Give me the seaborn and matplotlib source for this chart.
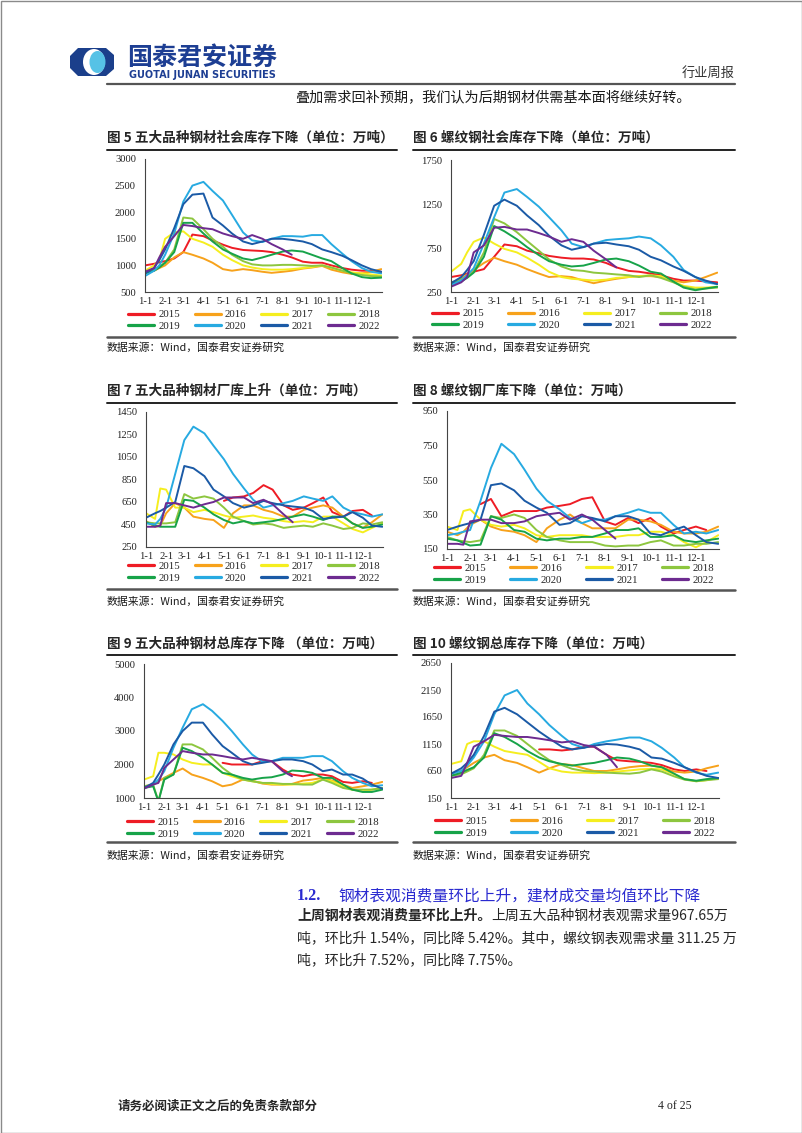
import matplotlib
matplotlib.use('Agg')
import matplotlib.pyplot as plt
from matplotlib.lines import Line2D
from matplotlib.patches import Polygon, Ellipse, Rectangle
import pandas as pd
import seaborn as sns

W, H = 802, 1133

# sample days (day of year), roughly twice a month
days = [0, 14, 22, 31, 45, 59, 73, 90, 104, 120, 134, 151, 165, 181, 195,
        212, 226, 243, 257, 273, 287, 304, 318, 334, 348, 364]
month_days = [0, 31, 59, 90, 120, 151, 181, 212, 243, 273, 304, 334]
month_labels = ['1-1', '2-1', '3-1', '4-1', '5-1', '6-1', '7-1', '8-1',
                '9-1', '10-1', '11-1', '12-1']
years = ['2015', '2016', '2017', '2018', '2019', '2020', '2021', '2022']
NA = None

# 图5 五大品种钢材社会库存
s1_2015 = [1000, 1030, 1060, 1080, 1130, 1250, 1580, 1550, 1470, 1390, 1330, 1290, 1280, 1270, 1250, 1200, 1150, 1070, 1050, 1050, 1000, 950, 920, 900, 900, 880]
s1_2016 = [870, 900, 950, 1000, 1150, 1250, 1200, 1130, 1050, 930, 900, 930, 910, 880, 860, 880, 900, 940, 960, 990, 920, 870, 840, 850, 880, 930]
s1_2017 = [900, 1000, 1100, 1500, 1620, 1640, 1500, 1430, 1350, 1200, 1100, 1000, 960, 930, 920, 920, 930, 950, 970, 1000, 960, 900, 870, 850, 830, 810]
s1_2018 = [880, 920, 980, 1050, 1300, 1900, 1880, 1680, 1500, 1350, 1200, 1080, 1020, 1000, 1000, 1010, 1010, 1000, 990, 1000, 960, 900, 850, 820, 800, 790]
s1_2019 = [850, 900, 960, 1050, 1250, 1800, 1800, 1600, 1450, 1300, 1220, 1130, 1100, 1150, 1200, 1260, 1280, 1260, 1200, 1130, 1080, 950, 850, 780, 760, 770]
s1_2020 = [800, 900, 1000, 1200, 1600, 2200, 2500, 2570, 2400, 2220, 1950, 1620, 1470, 1440, 1500, 1550, 1550, 1540, 1570, 1570, 1400, 1220, 1080, 950, 880, 850]
s1_2021 = [850, 950, 1100, 1300, 1700, 2150, 2330, 2350, 1900, 1750, 1600, 1450, 1400, 1450, 1500, 1500, 1480, 1450, 1400, 1300, 1250, 1180, 1100, 1000, 930, 880]
s1_2022 = [880, 950, 1150, 1350, 1550, 1760, 1740, 1700, 1680, 1600, 1550, 1500, 1570, 1500, 1400, 1300, 1200, NA, NA, NA, NA, NA, NA, NA, NA, NA]

# 图6 螺纹钢社会库存
s2_2015 = [420, 440, 460, 480, 510, 650, 790, 770, 720, 690, 660, 640, 630, 630, 620, 580, 530, 490, 480, 460, 440, 400, 380, 380, 370, 360]
s2_2016 = [350, 400, 450, 500, 580, 640, 600, 560, 510, 460, 420, 430, 420, 380, 350, 380, 400, 420, 430, 430, 420, 380, 360, 380, 420, 470]
s2_2017 = [480, 570, 700, 820, 870, 800, 740, 700, 640, 560, 480, 420, 400, 390, 380, 390, 410, 420, 430, 440, 430, 370, 320, 300, 300, 310]
s2_2018 = [360, 390, 430, 480, 700, 1080, 1030, 930, 830, 720, 620, 540, 500, 490, 470, 460, 450, 440, 420, 440, 410, 360, 310, 280, 290, 300]
s2_2019 = [340, 370, 410, 470, 650, 1000, 940, 850, 760, 670, 600, 560, 540, 550, 580, 620, 630, 600, 550, 480, 460, 370, 300, 270, 290, 310]
s2_2020 = [330, 380, 440, 520, 800, 1100, 1380, 1420, 1330, 1220, 1100, 950, 800, 760, 800, 840, 850, 860, 880, 860, 780, 650, 500, 420, 360, 340]
s2_2021 = [350, 420, 500, 600, 900, 1230, 1300, 1230, 1120, 1010, 890, 780, 730, 760, 800, 810, 790, 770, 730, 650, 610, 540, 490, 420, 380, 340]
s2_2022 = [310, 360, 420, 700, 780, 980, 990, 960, 960, 920, 880, 820, 850, 820, 720, 620, 530, NA, NA, NA, NA, NA, NA, NA, NA, NA]

# 图7 五大品种钢材厂库
s3_2015 = [NA, NA, NA, NA, NA, NA, NA, NA, NA, 660, 690, 700, 730, 800, 760, 620, 580, 600, 640, 690, 560, 520, 570, 580, 530, NA]
s3_2016 = [480, 430, 440, 550, 640, 600, 520, 500, 490, 420, 550, 620, 620, 580, 560, 520, 520, 580, 600, 620, 600, 520, 460, 420, 470, 540]
s3_2017 = [550, 500, 770, 760, 600, 600, 560, 580, 560, 530, 510, 520, 530, 510, 500, 480, 470, 480, 470, 520, 520, 460, 410, 380, 420, 460]
s3_2018 = [470, 460, 460, 460, 470, 720, 680, 700, 680, 600, 520, 480, 450, 460, 450, 420, 430, 440, 430, 460, 440, 410, 420, 460, 450, 470]
s3_2019 = [470, 440, 430, 430, 430, 670, 660, 600, 540, 490, 460, 480, 460, 470, 480, 500, 520, 540, 520, 490, 520, 520, 460, 420, 430, 450]
s3_2020 = [460, 450, 500, 600, 900, 1200, 1320, 1260, 1150, 1030, 900, 770, 670, 600, 620, 640, 660, 700, 680, 660, 700, 600, 560, 540, 520, 540]
s3_2021 = [510, 550, 570, 600, 650, 970, 950, 880, 760, 700, 640, 600, 620, 660, 640, 620, 610, 600, 570, 500, 510, 520, 560, 510, 440, 430]
s3_2022 = [430, 430, 440, 640, 640, 620, 600, 630, 650, 690, 690, 690, 640, 670, 630, 540, 470, NA, NA, NA, NA, NA, NA, NA, NA, NA]

# 图8 螺纹钢厂库
s4_2015 = [NA, NA, NA, NA, 410, 440, 340, 370, 370, 370, 390, 400, 410, 440, 450, 310, 290, 330, 300, 330, 280, 240, 260, 280, 260, NA]
s4_2016 = [250, 230, 250, 290, 320, 280, 260, 250, 230, 190, 270, 320, 350, 300, 270, 270, 270, 320, 320, 310, 290, 250, 240, 240, 250, 280]
s4_2017 = [280, 260, 370, 380, 320, 290, 280, 290, 270, 230, 220, 230, 230, 230, 220, 220, 220, 230, 230, 250, 250, 230, 190, 160, 190, 230]
s4_2018 = [220, 200, 195, 190, 200, 340, 330, 350, 330, 260, 220, 200, 190, 190, 190, 170, 165, 170, 170, 190, 200, 170, 170, 180, 180, 190]
s4_2019 = [210, 200, 185, 170, 175, 340, 320, 260, 250, 210, 200, 210, 210, 220, 220, 240, 260, 260, 270, 220, 220, 230, 200, 190, 200, 210]
s4_2020 = [230, 240, 250, 260, 430, 620, 760, 700, 610, 500, 430, 380, 330, 300, 320, 320, 340, 360, 380, 360, 360, 290, 240, 250, 240, 260]
s4_2021 = [260, 280, 290, 300, 320, 520, 530, 490, 430, 390, 360, 290, 300, 340, 330, 310, 340, 340, 320, 240, 230, 260, 280, 230, 190, 180]
s4_2022 = [180, 180, 175, 310, 320, 320, 300, 300, 310, 340, 350, 360, 320, 350, 320, 260, 210, NA, NA, NA, NA, NA, NA, NA, NA, NA]

# 图9 五大品种钢材总库存
s5_2015 = [NA, NA, NA, NA, NA, NA, NA, NA, NA, 2050, 2000, 2000, 2000, 2100, 2100, 1850, 1700, 1650, 1700, 1700, 1650, 1480, 1450, 1500, 1450, NA]
s5_2016 = [1350, 1400, 1500, 1600, 1750, 1880, 1700, 1600, 1500, 1350, 1400, 1550, 1520, 1430, 1400, 1400, 1420, 1520, 1550, 1600, 1520, 1400, 1300, 1350, 1400, 1480]
s5_2017 = [1550, 1650, 2350, 2350, 2300, 2150, 2050, 2000, 2000, 1750, 1650, 1550, 1500, 1450, 1420, 1400, 1400, 1430, 1450, 1550, 1500, 1350, 1250, 1200, 1250, 1300]
s5_2018 = [1350, 1400, 900, 1600, 1700, 2600, 2600, 2450, 2200, 1900, 1700, 1550, 1500, 1450, 1450, 1420, 1420, 1400, 1400, 1550, 1450, 1300, 1250, 1250, 1250, 1300]
s5_2019 = [1300, 1350, 900, 1550, 1700, 2500, 2400, 2200, 2000, 1750, 1700, 1600, 1550, 1600, 1620, 1700, 1820, 1800, 1750, 1600, 1600, 1400, 1250, 1180, 1180, 1250]
s5_2020 = [1300, 1400, 1550, 1800, 2500, 3100, 3650, 3800, 3600, 3300, 3000, 2600, 2300, 2080, 2100, 2200, 2200, 2200, 2250, 2250, 2100, 1800, 1600, 1450, 1350, 1380]
s5_2021 = [1300, 1450, 1700, 2000, 2600, 3000, 3250, 3250, 2900, 2550, 2350, 2100, 2000, 2050, 2100, 2150, 2150, 2100, 2000, 1800, 1850, 1700, 1700, 1580, 1400, 1280]
s5_2022 = [1280, 1400, 1450, 1900, 2150, 2400, 2350, 2300, 2300, 2250, 2200, 2150, 2200, 2150, 2100, 1800, 1650, NA, NA, NA, NA, NA, NA, NA, NA, NA]

# 图10 螺纹钢总库存
s6_2015 = [NA, NA, NA, NA, NA, NA, NA, NA, NA, 1050, 1050, 1030, 1050, 1100, 1100, 950, 850, 830, 820, 800, 760, 680, 650, 680, 650, NA]
s6_2016 = [600, 650, 720, 800, 900, 950, 850, 800, 720, 620, 700, 780, 760, 700, 650, 650, 680, 720, 740, 750, 720, 640, 620, 640, 700, 750]
s6_2017 = [780, 830, 1150, 1200, 1200, 1100, 1020, 980, 950, 820, 700, 640, 620, 620, 610, 620, 640, 660, 680, 690, 680, 590, 500, 460, 480, 520]
s6_2018 = [560, 590, 640, 700, 950, 1400, 1400, 1300, 1150, 980, 850, 760, 690, 650, 640, 620, 610, 600, 620, 680, 640, 550, 490, 460, 480, 500]
s6_2019 = [560, 620, 670, 720, 900, 1350, 1280, 1150, 1020, 900, 830, 780, 750, 780, 800, 850, 900, 880, 830, 750, 720, 600, 500, 470, 500, 520]
s6_2020 = [600, 650, 750, 900, 1200, 1700, 2050, 2150, 1900, 1700, 1500, 1300, 1150, 1080, 1150, 1200, 1230, 1270, 1270, 1200, 1080, 900, 720, 620, 580, 620]
s6_2021 = [600, 700, 800, 950, 1300, 1750, 1820, 1700, 1550, 1380, 1250, 1100, 1050, 1080, 1120, 1150, 1140, 1100, 1050, 900, 880, 800, 720, 630, 560, 520]
s6_2022 = [520, 560, 800, 1100, 1200, 1320, 1300, 1280, 1280, 1250, 1220, 1180, 1200, 1130, 1100, 950, 720, NA, NA, NA, NA, NA, NA, NA, NA, NA]

palette = {'2015': '#ee1c25', '2016': '#f7a21b', '2017': '#f5ee1f', '2018': '#8dc63f',
           '2019': '#17a349', '2020': '#27aae1', '2021': '#1b5aa6', '2022': '#6d2b90'}

sns.set_theme(style='white')
plt.rcParams['font.family'] = ['Noto Sans CJK SC', 'DejaVu Sans']
plt.rcParams['axes.unicode_minus'] = False


def long_df(series):
    frames = [pd.DataFrame({'day': days, 'value': vals, 'year': yr})
              for yr, vals in zip(years, series)]
    df = pd.concat(frames, ignore_index=True)
    df['value'] = pd.to_numeric(df['value'])
    return df.dropna()


charts = [
    dict(title='图 5 五大品种钢材社会库存下降（单位：万吨）',
         series=[s1_2015, s1_2016, s1_2017, s1_2018, s1_2019, s1_2020, s1_2021, s1_2022],
         yticks=[500, 1000, 1500, 2000, 2500, 3000], box=(145, 159, 382, 292),
         leg=(254, 320.5), cs=1.36, col=(107, 397), ty=138, ul=150, bl=337, src=348),
    dict(title='图 6 螺纹钢社会库存下降（单位：万吨）',
         series=[s2_2015, s2_2016, s2_2017, s2_2018, s2_2019, s2_2020, s2_2021, s2_2022],
         yticks=[250, 750, 1250, 1750], box=(451, 160, 718, 292),
         leg=(572, 319.5), cs=2.2, col=(413, 735), ty=138, ul=150, bl=337, src=348),
    dict(title='图 7 五大品种钢材厂库上升（单位：万吨）',
         series=[s3_2015, s3_2016, s3_2017, s3_2018, s3_2019, s3_2020, s3_2021, s3_2022],
         yticks=[250, 450, 650, 850, 1050, 1250, 1450], box=(146, 412, 383, 547),
         leg=(254, 572), cs=1.36, col=(107, 397), ty=391, ul=403, bl=589, src=602),
    dict(title='图 8 螺纹钢厂库下降（单位：万吨）',
         series=[s4_2015, s4_2016, s4_2017, s4_2018, s4_2019, s4_2020, s4_2021, s4_2022],
         yticks=[150, 350, 550, 750, 950], box=(447, 411, 719, 549),
         leg=(574, 574), cs=2.2, col=(413, 735), ty=391, ul=403, bl=590, src=602),
    dict(title='图 9 五大品种钢材总库存下降 （单位：万吨）',
         series=[s5_2015, s5_2016, s5_2017, s5_2018, s5_2019, s5_2020, s5_2021, s5_2022],
         yticks=[1000, 2000, 3000, 4000, 5000], box=(144, 664, 383, 798),
         leg=(253, 828), cs=1.36, col=(107, 397), ty=644, ul=655, bl=842, src=856),
    dict(title='图 10 螺纹钢总库存下降（单位：万吨）',
         series=[s6_2015, s6_2016, s6_2017, s6_2018, s6_2019, s6_2020, s6_2021, s6_2022],
         yticks=[150, 650, 1150, 1650, 2150, 2650], box=(451, 663, 719, 798),
         leg=(575, 827), cs=2.2, col=(413, 735), ty=644, ul=655, bl=842, src=856),
]

fig = plt.figure(figsize=(W / 100, H / 100), dpi=100)
fig.patch.set_facecolor('white')

# page layer in pixel coordinates
page = fig.add_axes([0, 0, 1, 1])
page.set_xlim(0, W)
page.set_ylim(H, 0)
page.axis('off')

page.add_patch(Rectangle((0.5, 0.5), W - 1, H - 1, fill=False, edgecolor='#8a8a8a', lw=1))

# logo
page.add_patch(Polygon([(78, 48), (106, 48), (114, 55), (114, 69), (106, 76),
                        (78, 76), (70, 68), (70, 56)], closed=True,
                       facecolor='#1b3f8b', edgecolor='none'))
page.add_patch(Ellipse((94, 62), 22, 26, facecolor='white', edgecolor='none'))
page.add_patch(Ellipse((97.5, 62), 16, 22, facecolor='#56c2e6', edgecolor='none'))
page.text(127, 58, '国泰君安证券', fontsize=18, fontweight='bold', color='#1d3e93', va='center')
page.text(129, 75, 'GUOTAI JUNAN SECURITIES', fontsize=7, fontweight='bold',
          color='#1d3e93', family='DejaVu Sans', va='center')
page.text(735, 73, '行业周报', ha='right', va='center', fontsize=9.5, color='#333333')
page.plot([107, 735], [84, 84], color='#555555', lw=1.6)
page.text(295, 97, '叠加需求回补预期，我们认为后期钢材供需基本面将继续好转。',
          fontsize=10.2, va='center', color='#1a1a1a')

order = [0, 4, 1, 5, 2, 6, 3, 7]

for c in charts:
    x0, y0, x1, y1 = c['box']
    ax = fig.add_axes([x0 / W, 1 - y1 / H, (x1 - x0) / W, (y1 - y0) / H])
    ax.set_facecolor('none')
    df = long_df(c['series'])
    sns.lineplot(data=df, x='day', y='value', hue='year', hue_order=years,
                 palette=palette, linewidth=1.4, legend=False, ax=ax, estimator=None)
    ax.set_xlim(0, 365)
    ax.set_ylim(c['yticks'][0], c['yticks'][-1])
    ax.set_xticks(month_days)
    ax.set_xticklabels(month_labels)
    ax.set_yticks(c['yticks'])
    ax.set_xlabel('')
    ax.set_ylabel('')
    ax.grid(False)
    for sp in ['top', 'right']:
        ax.spines[sp].set_visible(False)
    for sp in ['left', 'bottom']:
        ax.spines[sp].set_color('#444444')
        ax.spines[sp].set_linewidth(0.8)
    ax.tick_params(axis='both', direction='out', length=2.5, width=0.7, color='#444444',
                   labelsize=7.6, labelcolor='#222222')
    ax.tick_params(axis='y', pad=4.0)
    ax.tick_params(axis='x', pad=0.8)
    for lab in ax.get_xticklabels() + ax.get_yticklabels():
        lab.set_fontfamily('Liberation Serif')

    handles = [Line2D([], [], color=palette[y], lw=2.3) for y in years]
    ax.legend([handles[i] for i in order], [years[i] for i in order], loc='center',
              bbox_to_anchor=(c['leg'][0] / W, 1 - c['leg'][1] / H),
              bbox_transform=fig.transFigure, ncol=4, frameon=False,
              handlelength=2.4, handletextpad=0.4, columnspacing=c['cs'],
              labelspacing=0.2, borderpad=0, borderaxespad=0,
              prop={'family': 'Liberation Serif', 'size': 7.8})

    l0, l1 = c['col']
    page.text(l0, c['ty'], c['title'], fontsize=9.8, fontweight='bold', va='center')
    page.plot([l0, l1], [c['ul'], c['ul']], color='#222222', lw=1.4)
    page.plot([l0, l1], [c['bl'], c['bl']], color='#555555', lw=1.8)
    page.text(l0, c['src'], '数据来源：Wind，国泰君安证券研究', fontsize=7.8, va='center',
              color='#1a1a1a')

# section 1.2
page.text(297, 896, '1.2.', fontsize=11.5, fontweight='bold', color='#2a2ad0',
          family='Liberation Serif', va='center')
page.text(338, 896, '钢材表观消费量环比上升，建材成交量均值环比下降', fontsize=11.3,
          color='#2a2ad0', va='center')
bold = page.text(297, 916, '上周钢材表观消费量环比上升。', fontsize=10.0, fontweight='bold',
                 va='center')
bb = bold.get_window_extent(renderer=fig.canvas.get_renderer())
page.text(bb.x1, 916, '上周五大品种钢材表观需求量967.65万', fontsize=10.0, va='center')
page.text(297, 938, '吨，环比升 1.54%，同比降 5.42%。其中，螺纹钢表观需求量 311.25 万',
          fontsize=10.0, va='center')
page.text(297, 960, '吨，环比升 7.52%，同比降 7.75%。', fontsize=10.0, va='center')

# footer
page.text(118, 1106, '请务必阅读正文之后的免责条款部分', fontsize=9, fontweight='bold', va='center')
page.text(675, 1106, '4 of 25', fontsize=8.5, family='Liberation Serif', ha='center', va='center')

fig.savefig('out.png', dpi=100)
